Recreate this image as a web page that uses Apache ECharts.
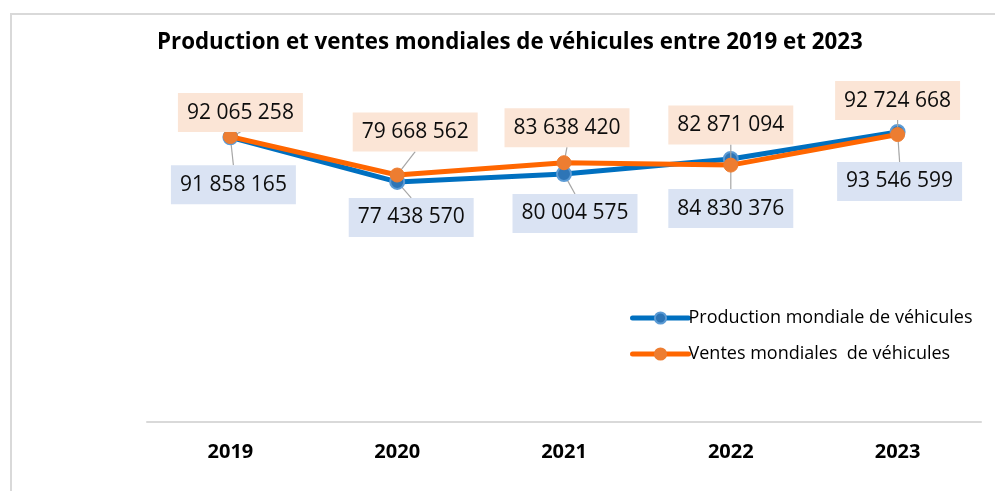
<html>
<head>
<meta charset="utf-8">
<script src="https://cdn.jsdelivr.net/npm/echarts@6/dist/echarts.min.js"></script>
<style>
  html, body { margin: 0; padding: 0; background: #fff; }
  #main { width: 995px; height: 491px; }
</style>
</head>
<body>
<div id="main"></div>
<script>
// données
var annees = ['2019', '2020', '2021', '2022', '2023'];
var production = [91858165, 77438570, 80004575, 84830376, 93546599];
var ventes = [92065258, 79668562, 83638420, 82871094, 92724668];

// décalage des étiquettes (dx, dy) pour imiter le placement manuel
var decalVentes = [[10, 3], [18, -16], [3, -8], [0, -13], [0, -7]];
var decalProd = [[3, 20], [14, 8], [11, 12], [0, 22], [2, 22]];

function fmt(v) {
  return String(v).replace(/\B(?=(\d{3})+(?!\d))/g, ' ');
}

var police = '"Open Sans", "Noto Sans", sans-serif';

var myChart = echarts.init(document.getElementById('main'));
myChart.setOption({
  animation: false,
  title: {
    text: 'Production et ventes mondiales de véhicules entre 2019 et 2023',
    left: 152,
    top: 27,
    textStyle: { fontFamily: police, fontWeight: 'bold', fontSize: 22.3, color: '#000' }
  },
  graphic: [{
    type: 'rect',
    z: -1,
    shape: { x: 11, y: 14, width: 1100, height: 600 },
    style: { fill: 'none', stroke: '#D9D9D9', lineWidth: 2 }
  }],
  legend: {
    orient: 'vertical',
    left: 625,
    top: 304,
    itemWidth: 56,
    itemHeight: 14,
    itemGap: 18,
    lineStyle: { width: 5, cap: 'round' },
    textStyle: { fontFamily: police, fontSize: 18, color: '#000', padding: [0, 0, 0, -5] },
    data: ['Production mondiale de véhicules', 'Ventes mondiales  de véhicules']
  },
  grid: { left: 147, right: 14, top: 112, bottom: 69 },
  xAxis: {
    type: 'category',
    data: annees,
    boundaryGap: true,
    axisLine: { lineStyle: { color: '#D9D9D9', width: 2 } },
    axisTick: { show: false },
    axisLabel: { margin: 20, fontFamily: police, fontWeight: 'bold', fontSize: 20, color: '#000' }
  },
  yAxis: {
    type: 'value',
    min: 0,
    max: 100000000,
    show: false,
    splitLine: { show: false }
  },
  series: [
    {
      name: 'Production mondiale de véhicules',
      type: 'line',
      data: production,
      symbol: 'circle',
      symbolSize: 14,
      lineStyle: { color: '#0070C0', width: 5 },
      itemStyle: { color: '#2E75B6', borderColor: '#5B9BD5', borderWidth: 2 },
      label: {
        show: true,
        position: 'bottom',
        distance: 0,
        formatter: function (p) { return fmt(p.value); },
        fontFamily: police,
        fontSize: 21,
        color: '#0D0D0D',
        backgroundColor: '#DAE3F3',
        padding: [9, 9, 9, 9]
      },
      labelLine: { show: true, lineStyle: { color: '#A6A6A6', width: 1.2 } },
      labelLayout: function (p) {
        var d = decalProd[p.dataIndex];
        return { dx: d[0], dy: d[1] };
      },
      z: 2
    },
    {
      name: 'Ventes mondiales  de véhicules',
      type: 'line',
      data: ventes,
      symbol: 'circle',
      symbolSize: 14,
      lineStyle: { color: '#FF6600', width: 5 },
      itemStyle: { color: '#ED7D31', borderColor: '#ED7D31', borderWidth: 1 },
      label: {
        show: true,
        position: 'top',
        distance: 0,
        formatter: function (p) { return fmt(p.value); },
        fontFamily: police,
        fontSize: 21,
        color: '#0D0D0D',
        backgroundColor: '#FBE5D6',
        padding: [9, 9, 9, 9]
      },
      labelLine: { show: true, lineStyle: { color: '#A6A6A6', width: 1.2 } },
      labelLayout: function (p) {
        var d = decalVentes[p.dataIndex];
        return { dx: d[0], dy: d[1] };
      },
      z: 3
    }
  ]
});
</script>
</body>
</html>
